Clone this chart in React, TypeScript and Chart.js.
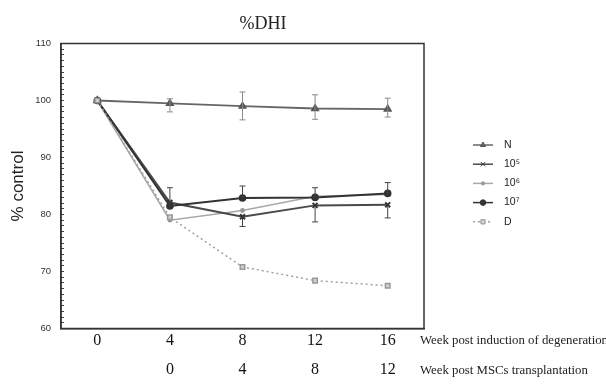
import React, { useEffect, useRef } from "react";
import { Chart, registerables } from "chart.js";
import { drawPoint } from "chart.js/helpers";
Chart.register(...registerables);

const weeks = [0, 4, 8, 12, 16];
const transplantLabels = ["", "0", "4", "8", "12"];
const seriesNames = ["N", "10⁵", "10⁶", "10⁷", "D"];
const nValues = [100, 99.5, 99.0, 98.6, 98.5];
const n5Values = [100, 82.1, 79.6, 81.6, 81.7];
const n6Values = [100, 79.0, 80.7, 83.2, 83.5];
const n7Values = [100, 81.5, 82.9, 83.0, 83.7];
const dValues = [100, 79.5, 70.8, 68.4, 67.5];
const nUpper = [null, 100.3, 101.5, 101.0, 100.4];
const nLower = [null, 98.0, 96.6, 96.7, 97.1];
const n7Upper = [null, 84.7, 85.0, 84.7, 85.6];
const n5Lower = [null, null, 77.9, 78.7, 79.4];
const titleText = "%DHI";
const yTitle = "% control";
const xTitle1 = "Week post induction of degeneration";
const xTitle2 = "Week post MSCs transplantation";

const toPts = (vals: number[]) => weeks.map((w, i) => ({ x: w, y: vals[i] }));

const errorSets = [
  { ds: 0, upper: nUpper, lower: nLower, color: "#8a8a8a" },
  { ds: 3, upper: n7Upper, lower: [null, null, null, null, null], color: "#444" },
  { ds: 1, upper: [null, null, null, null, null], lower: n5Lower, color: "#444" },
];

const framePlugin = {
  id: "frame",
  beforeDatasetsDraw(chart: any) {
    const { ctx, chartArea: a } = chart;
    ctx.save();
    ctx.strokeStyle = "#333";
    ctx.lineWidth = 1.5;
    ctx.strokeRect(a.left, a.top, a.right - a.left, a.bottom - a.top);
    ctx.restore();
  },
  afterDatasetsDraw(chart: any) {
    const { ctx, chartArea: a, scales } = chart;
    const xs = scales.x, ys = scales.y;
    ctx.save();
    // error bars
    errorSets.forEach((e) => {
      const ds = chart.data.datasets[e.ds];
      ctx.strokeStyle = e.color;
      ctx.lineWidth = 1;
      weeks.forEach((w, i) => {
        const px = xs.getPixelForValue(w);
        const py = ys.getPixelForValue(ds.data[i].y);
        const ends = [e.upper[i], e.lower[i]];
        ends.forEach((v) => {
          if (v === null || v === undefined) return;
          const pv = ys.getPixelForValue(v);
          ctx.beginPath();
          ctx.moveTo(px, py);
          ctx.lineTo(px, pv);
          ctx.moveTo(px - 3, pv);
          ctx.lineTo(px + 3, pv);
          ctx.stroke();
        });
      });
    });
    // title
    ctx.fillStyle = "#222";
    ctx.font = '18px "Liberation Serif"';
    ctx.textAlign = "center";
    ctx.textBaseline = "middle";
    ctx.fillText(titleText, a.left + 202, 24);
    // axis side titles
    ctx.font = '12.8px "Liberation Serif"';
    ctx.textAlign = "left";
    ctx.fillStyle = "#222";
    ctx.fillText(xTitle1, a.right - 4, a.bottom + 12);
    ctx.fillText(xTitle2, a.right - 4, a.bottom + 42);
    // legend
    const lx = a.right + 49;
    const ly0 = a.top + 101.5;
    chart.data.datasets.forEach((ds: any, i: number) => {
      const y = ly0 + i * 19.2;
      ctx.save();
      ctx.strokeStyle = ds.borderColor;
      ctx.lineWidth = Math.min(ds.borderWidth, 1.5);
      ctx.setLineDash(ds.borderDash || []);
      ctx.beginPath();
      ctx.moveTo(lx, y);
      ctx.lineTo(lx + 20, y);
      ctx.stroke();
      ctx.setLineDash([]);
      ctx.fillStyle = ds.pointBackgroundColor;
      ctx.strokeStyle = ds.pointBorderColor;
      ctx.lineWidth = 1;
      drawPoint(ctx, { pointStyle: ds.pointStyle, radius: Math.min(ds.pointRadius, 3), borderWidth: 1, rotation: 0 }, lx + 10, y);
      ctx.restore();
      ctx.fillStyle = "#222";
      ctx.font = '10.5px "Liberation Sans"';
      ctx.textAlign = "left";
      ctx.textBaseline = "middle";
      ctx.fillText(seriesNames[i], lx + 31, y);
    });
    ctx.restore();
  },
};

export default function App() {
  const ref = useRef<HTMLCanvasElement | null>(null);
  useEffect(() => {
    if (!ref.current) return;
    const chart = new Chart(ref.current, {
      type: "line",
      data: {
        datasets: [
          {
            label: seriesNames[0], data: toPts(nValues), borderColor: "#666", borderWidth: 1.8, order: 2,
            pointStyle: "triangle", pointRadius: 3.5, pointBackgroundColor: "#666", pointBorderColor: "#555",
          },
          {
            label: seriesNames[1], data: toPts(n5Values), borderColor: "#4a4a4a", borderWidth: 2, order: 3,
            pointStyle: "crossRot", pointRadius: 3.5, pointBackgroundColor: "#444", pointBorderColor: "#333",
          },
          {
            label: seriesNames[2], data: toPts(n6Values), borderColor: "#a8a8a8", borderWidth: 1.6, order: 4,
            pointStyle: "circle", pointRadius: 1.6, pointBackgroundColor: "#999", pointBorderColor: "#999",
          },
          {
            label: seriesNames[3], data: toPts(n7Values), borderColor: "#333", borderWidth: 2, order: 1,
            pointStyle: "circle", pointRadius: 2.8, pointBackgroundColor: "#333", pointBorderColor: "#333",
          },
          {
            label: seriesNames[4], data: toPts(dValues), borderColor: "#a0a0a0", borderWidth: 1.5, borderDash: [2, 3], order: 0,
            pointStyle: "rect", pointRadius: 3.2, pointBackgroundColor: "#cfcfcf", pointBorderColor: "#999",
          },
        ] as any,
      },
      options: {
        animation: false,
        responsive: false,
        maintainAspectRatio: false,
        layout: { padding: { top: 43.5, right: 182, left: 0, bottom: 0 } },
        plugins: { legend: { display: false }, title: { display: false }, tooltip: { enabled: false } },
        scales: {
          x: {
            type: "linear", position: "bottom", min: -2, max: 18,
            afterBuildTicks: (s: any) => { s.ticks = weeks.map((v) => ({ value: v })); },
            afterFit: (s: any) => { s.height = 27; },
            ticks: { font: { family: "Liberation Serif", size: 16 }, color: "#111", padding: 3, autoSkip: false, maxRotation: 0 },
            grid: { display: false, drawTicks: false },
            border: { display: true, color: "#333", width: 1.5 },
          },
          x2: {
            type: "linear", position: "bottom", min: -2, max: 18,
            afterBuildTicks: (s: any) => { s.ticks = weeks.filter((_, i) => transplantLabels[i] !== "").map((v) => ({ value: v })); },
            afterFit: (s: any) => { s.height = 31.5; },
            ticks: {
              font: { family: "Liberation Serif", size: 16 }, color: "#111", padding: 5, autoSkip: false, maxRotation: 0,
              callback: (v: any) => transplantLabels[weeks.indexOf(Number(v))],
            },
            grid: { display: false, drawTicks: false },
            border: { display: false },
          },
          y: {
            min: 60, max: 110,
            afterBuildTicks: (s: any) => { const t = []; for (let v = 60; v <= 110; v++) t.push({ value: v }); s.ticks = t; },
            afterFit: (s: any) => { s.width = 61; },
            ticks: {
              autoSkip: false, padding: 13, color: "#333",
              font: { family: "Liberation Sans", size: 9.5 },
              callback: (v: any) => (Number(v) % 10 === 0 ? String(v) : ""),
            },
            grid: { drawOnChartArea: false, drawTicks: true, tickLength: -3, color: "#444", lineWidth: 1 },
            border: { display: true, color: "#333", width: 1.5 },
            title: { display: true, text: yTitle, color: "#222", font: { family: "Liberation Sans", size: 17 }, padding: { top: 8, bottom: 0 } },
          },
        },
      } as any,
      plugins: [framePlugin],
    });
    return () => chart.destroy();
  }, []);
  return (
    <div style={{ position: "fixed", left: 0, top: 0, width: 606, height: 387, background: "#fff" }}>
      <canvas ref={ref} width={606} height={387} style={{ width: 606, height: 387, display: "block" }} />
    </div>
  );
}
